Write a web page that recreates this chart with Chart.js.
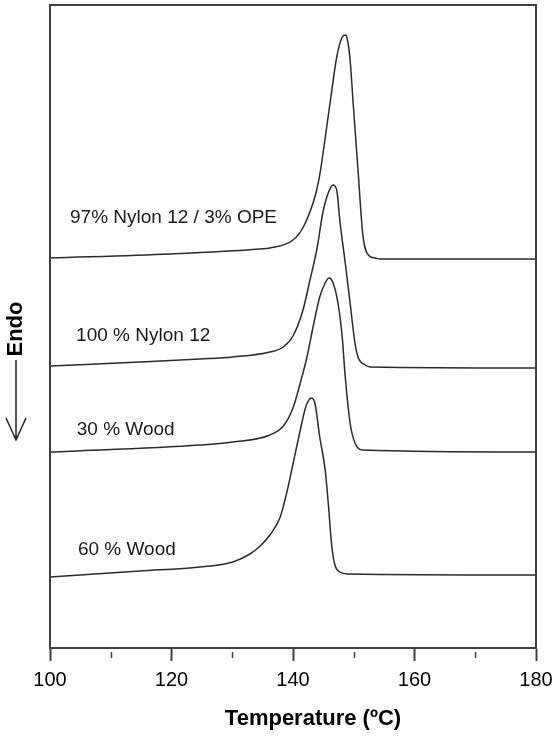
<!DOCTYPE html>
<html>
<head>
<meta charset="utf-8">
<script src="https://cdn.jsdelivr.net/npm/chart.js@4/dist/chart.umd.min.js"></script>
<style>
  body { margin: 0; background: #fff; }
  canvas { display: block; }
</style>
</head>
<body>
<canvas id="canvas" width="553" height="736"></canvas>
<script>
// DSC melting endotherms, heat flow in arbitrary units (curves stacked)
const names = ['97% Nylon 12 / 3% OPE', '100 % Nylon 12', '30 % Wood', '60 % Wood'];

const tempOPE = [100, 119.8, 134.6, 136.2, 140.0, 141.7, 143.3, 143.9, 144.4, 146.1, 147.2, 148.1, 148.6, 148.9, 149.4, 149.9, 150.7, 151.5, 152.4, 153.5, 154.3, 180];
const flowOPE = [39.0, 39.4, 39.9, 40.0, 40.8, 42.1, 44.5, 45.8, 47.3, 54.5, 59.1, 61.1, 61.3, 61.0, 58.8, 54.5, 47.8, 41.3, 39.3, 39.0, 38.9, 38.9];

const tempNylon = [100, 114.8, 124.7, 130.1, 136.2, 138.4, 140.0, 141.6, 142.8, 144.0, 144.9, 145.8, 146.6, 147.2, 147.7, 148.6, 149.4, 150.2, 150.7, 151.9, 152.7, 180];
const flowNylon = [28.2, 28.6, 28.9, 29.1, 29.6, 30.1, 31.2, 33.7, 36.8, 40.1, 43.5, 45.5, 46.3, 45.8, 42.8, 38.5, 34.5, 30.5, 29.1, 28.3, 28.1, 28.0];

const tempWood30 = [100, 124.7, 130.1, 136.2, 138.4, 140.0, 141.2, 142.3, 143.3, 144.4, 145.3, 145.9, 146.6, 147.4, 148.1, 148.6, 149.4, 150.2, 151.5, 180];
const flowWood30 = [19.6, 20.3, 20.6, 21.3, 22.2, 24.0, 26.5, 29.1, 32.1, 35.1, 36.5, 37.0, 36.5, 34.5, 31.1, 27.1, 22.5, 20.5, 19.8, 19.6];

const tempWood60 = [100, 114.8, 124.7, 130.1, 132.9, 134.6, 136.2, 137.9, 139.0, 140.0, 141.2, 142.0, 142.5, 143.0, 143.6, 144.4, 145.3, 145.8, 146.4, 146.9, 147.7, 149.0, 180];
const flowWood60 = [7.1, 7.7, 8.1, 8.6, 9.4, 10.2, 11.3, 13.1, 15.6, 18.4, 21.8, 23.9, 24.7, 25.0, 24.5, 21.1, 17.8, 14.5, 10.1, 8.3, 7.6, 7.4, 7.3];

// where each curve's name sits (temperature, heat flow)
const labelTemp = [103.3, 104.3, 104.4, 104.6];
const labelFlow = [42.5, 30.7, 21.3, 9.3];

const minorTicks = [110, 130, 150, 170];

const LINE = '#2b2b2b';
const AXIS = '#404040';

function pts(t, f) {
    return t.map((x, i) => ({ x: x, y: f[i] }));
}

function curve(label, t, f) {
    return {
        label: label,
        data: pts(t, f),
        borderColor: LINE,
        borderWidth: 1.5,
        pointRadius: 0,
        fill: false,
        cubicInterpolationMode: 'monotone'
    };
}

const decor = {
    id: 'decor',
    afterDraw(chart) {
        const ctx = chart.ctx;
        const a = chart.chartArea;
        const xs = chart.scales.x;
        const ys = chart.scales.y;
        ctx.save();

        // frame
        ctx.strokeStyle = AXIS;
        ctx.lineWidth = 2;
        ctx.strokeRect(a.left, a.top, a.right - a.left, a.bottom - a.top);

        // minor ticks
        ctx.lineWidth = 1.5;
        minorTicks.forEach(v => {
            const px = Math.round(xs.getPixelForValue(v)) + 0.5;
            ctx.beginPath();
            ctx.moveTo(px, a.bottom + 4);
            ctx.lineTo(px, a.bottom + 10);
            ctx.stroke();
        });

        // curve names
        ctx.fillStyle = '#1a1a1a';
        ctx.font = '19px "Liberation Sans", Arial, sans-serif';
        ctx.textAlign = 'left';
        ctx.textBaseline = 'alphabetic';
        names.forEach((n, i) => {
            ctx.fillText(n, xs.getPixelForValue(labelTemp[i]), ys.getPixelForValue(labelFlow[i]));
        });

        // x title
        ctx.fillStyle = '#000';
        ctx.font = 'bold 22px "Liberation Sans", Arial, sans-serif';
        ctx.textAlign = 'center';
        ctx.fillText('Temperature (ºC)', 313, 725);

        // Endo with arrow
        ctx.save();
        ctx.translate(22, 329);
        ctx.rotate(-Math.PI / 2);
        ctx.textAlign = 'center';
        ctx.fillText('Endo', 0, 0);
        ctx.restore();

        ctx.strokeStyle = '#222';
        ctx.lineWidth = 1.5;
        ctx.beginPath();
        ctx.moveTo(16, 360);
        ctx.lineTo(16, 440);
        ctx.moveTo(6, 418);
        ctx.lineTo(16, 440);
        ctx.lineTo(26, 418);
        ctx.stroke();

        ctx.restore();
    }
};

const chart = new Chart(document.getElementById('canvas').getContext('2d'), {
    type: 'line',
    data: {
        datasets: [
            curve(names[0], tempOPE, flowOPE),
            curve(names[1], tempNylon, flowNylon),
            curve(names[2], tempWood30, flowWood30),
            curve(names[3], tempWood60, flowWood60)
        ]
    },
    options: {
        responsive: false,
        animation: false,
        layout: { padding: { left: 50, right: 17, top: 5, bottom: 0 } },
        plugins: {
            legend: { display: false },
            tooltip: { enabled: false }
        },
        scales: {
            x: {
                type: 'linear',
                min: 100,
                max: 180,
                afterFit: s => {
                    s.height = 88;
                    s.paddingLeft = 0;
                    s.paddingRight = 0;
                },
                ticks: {
                    stepSize: 10,
                    autoSkip: false,
                    maxRotation: 0,
                    padding: 7,
                    color: '#000',
                    font: { family: '"Liberation Sans", Arial, sans-serif', size: 20 },
                    callback: v => (v % 20 === 0 ? v : '')
                },
                grid: {
                    drawOnChartArea: false,
                    drawTicks: true,
                    tickLength: 13,
                    tickWidth: 2,
                    tickColor: c => (c.tick && c.tick.value % 20 === 0 ? AXIS : 'rgba(0,0,0,0)')
                },
                border: { color: AXIS, width: 2 }
            },
            y: {
                display: false,
                min: 0,
                max: 64.3
            }
        }
    },
    plugins: [decor]
});
</script>
</body>
</html>
